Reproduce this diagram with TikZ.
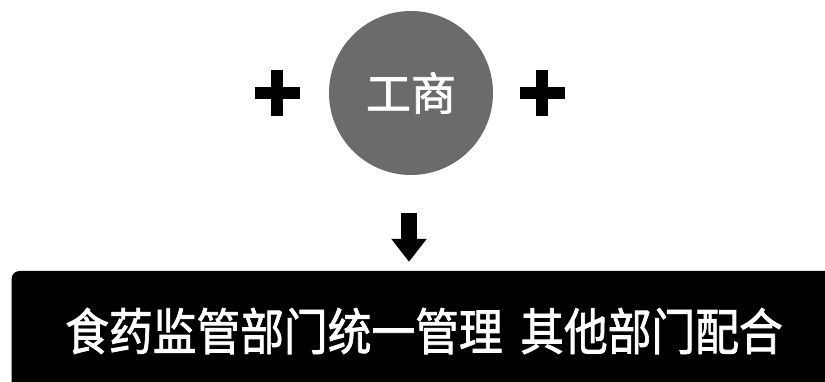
\documentclass[tikz,border=0pt]{standalone}
\usepackage{fontspec}
\usepackage{graphicx}
\newfontfamily\cjk{Noto Sans CJK SC}[FakeBold=1.6]
\usetikzlibrary{arrows.meta}

\begin{document}
\begin{tikzpicture}[x=1pt,y=-1pt]
   \clip (0,0) rectangle (825,382);
   \tikzstyle{round}=[circle, fill=black!58, minimum size=164pt, inner sep=0pt, text=white, font=\cjk\fontsize{45}{45}\selectfont]
   \tikzstyle{band}=[rectangle, rounded corners=8pt, fill=black, minimum width=825pt, minimum height=120pt, text=white, font=\cjk\fontsize{50}{50}\selectfont]
   \tikzstyle{cross}=[line width=12pt]
   \node[round] (gongshang) at (411,93) {工商};
   \foreach \x/\name in {277/lplus,542/rplus} {
       \coordinate (\name) at (\x,93);
       \draw[cross] ([xshift=-22.5pt]\name) -- ([xshift=22.5pt]\name);
       \draw[cross] ([yshift=-23pt]\name) -- ([yshift=23pt]\name);
   }
   \node[band] (unify) at (424,331) {\scalebox{0.875}[1]{食药监管部门统一管理\hspace{20pt}其他部门配合}};
   \coordinate (top) at (409,213);
   \draw[line width=16pt, -{Triangle[width=34pt,length=23pt]}] (top) -- ([yshift=9pt]top |- unify.north);
\end{tikzpicture}
\end{document}
